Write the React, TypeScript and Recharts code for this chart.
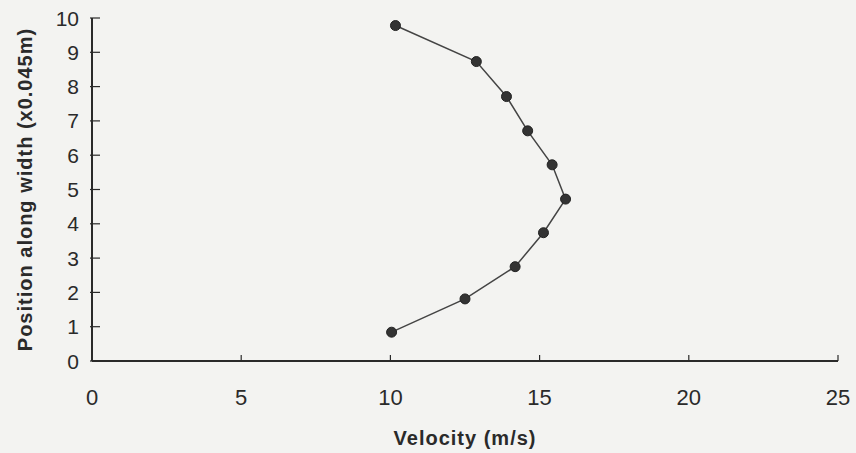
import * as React from "react";
import {
  Label,
  Scatter,
  ScatterChart,
  XAxis,
  YAxis,
} from "recharts";

// Velocity profile across the channel width.
const velocity = [10.04, 12.5, 14.18, 15.13, 15.87, 15.42, 14.6, 13.89, 12.88, 10.17];
const position = [0.84, 1.81, 2.75, 3.74, 4.72, 5.72, 6.71, 7.71, 8.73, 9.78];

const xTicks = [0, 5, 10, 15, 20, 25];
const yTicks = [0, 1, 2, 3, 4, 5, 6, 7, 8, 9, 10];

const xTitle = "Velocity (m/s)";
const yTitle = "Position along width (x0.045m)";

const FONT = "'Liberation Sans', Arial, Helvetica, sans-serif";
const INK = "#2a2a2a";

interface Point {
  v: number;
  p: number;
}

const points: Point[] = velocity.map((v, i) => ({ v, p: position[i] }));

function Dot(props: { cx?: number; cy?: number }): React.JSX.Element {
  const { cx = 0, cy = 0 } = props;
  return <circle cx={cx} cy={cy} r={5} fill="#333" stroke="#222" strokeWidth={1} />;
}

// y ticks in the scan cross the axis line on both sides
function YTick(props: {
  x?: number;
  y?: number;
  payload?: { value: number };
}): React.JSX.Element {
  const { x = 0, y = 0, payload } = props;
  return (
    <g>
      <line x1={x + 6} x2={x + 16} y1={y} y2={y} stroke={INK} strokeWidth={1.2} />
      <text
        x={x - 5}
        y={y}
        dy="0.36em"
        textAnchor="end"
        fontFamily={FONT}
        fontSize={21}
        fill={INK}
      >
        {payload?.value}
      </text>
    </g>
  );
}

export default function App(): React.JSX.Element {
  return (
    <div
      style={{
        position: "absolute",
        left: 0,
        top: 0,
        width: 856,
        height: 453,
        background: "#f3f3f1",
      }}
    >
      <ScatterChart
        width={856}
        height={453}
        margin={{ top: 18, right: 18, bottom: 0, left: 0 }}
      >
        <XAxis
          type="number"
          dataKey="v"
          domain={[0, 25]}
          ticks={xTicks}
          interval={0}
          height={92}
          tickSize={6}
          tickMargin={22}
          axisLine={{ stroke: INK, strokeWidth: 2 }}
          tickLine={{ stroke: INK, strokeWidth: 1.2, transform: "translate(0,-6)" }}
          tick={{ fontFamily: FONT, fontSize: 22, fill: INK }}
        >
          <Label
            value={xTitle}
            position="insideBottom"
            offset={8}
            style={{
              fontFamily: FONT,
              fontSize: 20,
              fontWeight: 700,
              letterSpacing: 1,
              fill: INK,
            }}
          />
        </XAxis>
        <YAxis
          type="number"
          dataKey="p"
          domain={[0, 10]}
          ticks={yTicks}
          interval={0}
          width={92}
          tickSize={6}
          tickLine={false}
          axisLine={{ stroke: INK, strokeWidth: 2 }}
          tick={<YTick />}
        >
          <Label
            content={(lp: { viewBox?: { y?: number; height?: number } }) => {
              const vb = lp.viewBox ?? {};
              const cy = (vb.y ?? 0) + (vb.height ?? 0) / 2;
              return (
                <text
                  x={32}
                  y={cy}
                  transform={`rotate(-90, 32, ${cy})`}
                  textAnchor="middle"
                  fontFamily={FONT}
                  fontSize={20}
                  fontWeight={700}
                  letterSpacing={1}
                  fill={INK}
                >
                  {yTitle}
                </text>
              );
            }}
          />
        </YAxis>
        <Scatter
          data={points}
          line={{ stroke: "#444", strokeWidth: 1.5 }}
          shape={<Dot />}
          isAnimationActive={false}
        />
      </ScatterChart>
    </div>
  );
}
